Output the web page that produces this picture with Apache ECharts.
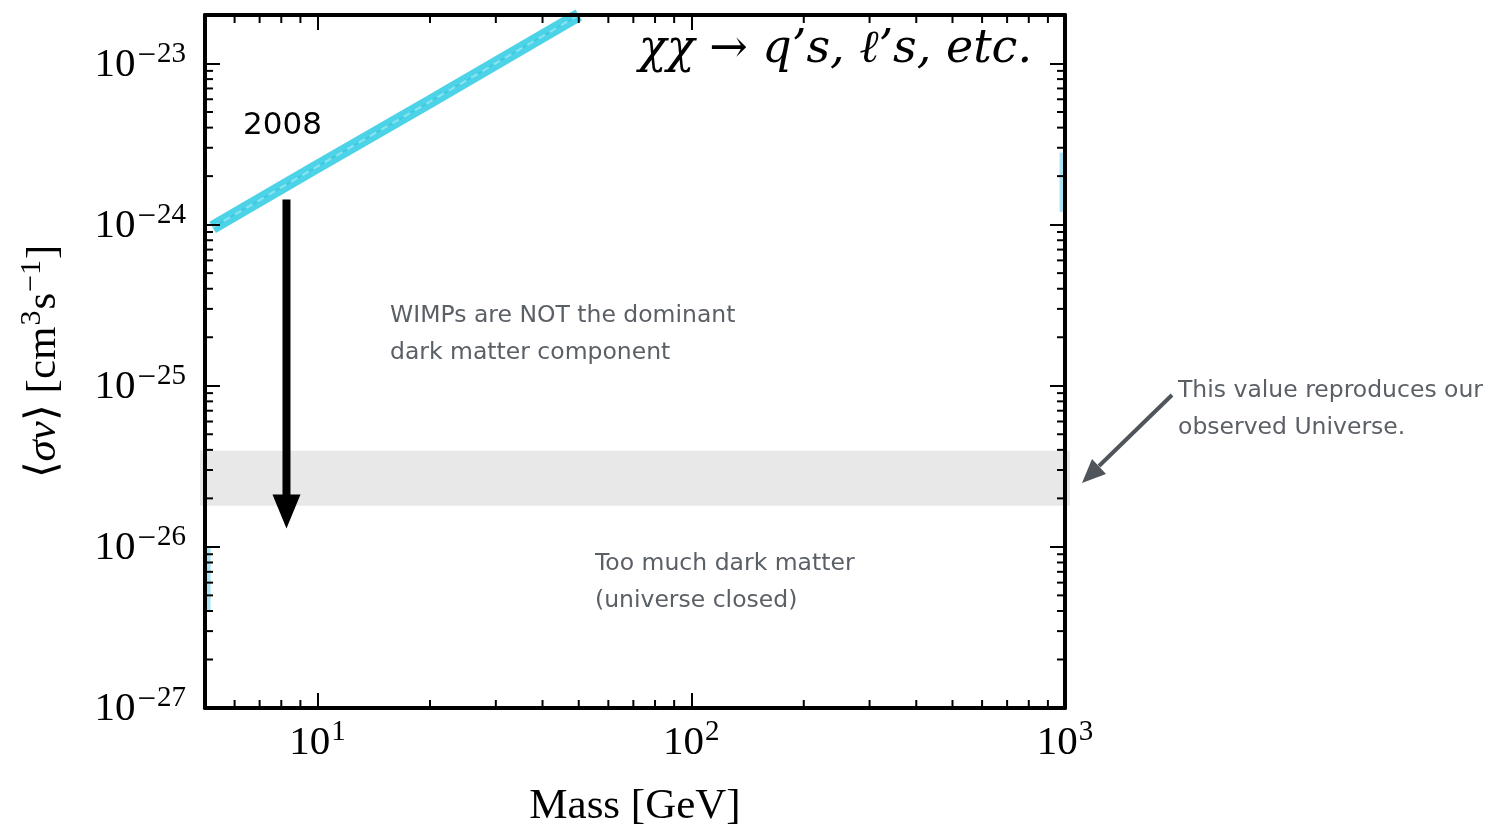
<!DOCTYPE html>
<html><head><meta charset="utf-8">
<script src="https://cdn.jsdelivr.net/npm/echarts@6.0.0/dist/echarts.min.js"></script>
<style>html,body{margin:0;padding:0;background:#fff}#c{width:1499px;height:836px}</style>
</head><body><div id="c"></div>
<script>
// ---- data ----
const xMin = 5, xMax = 1000;
const yMin = 1e-27, yMax = 2e-23;
const xMajorTicks = [10, 100, 1000];
const xTickExponents = ['1', '2', '3'];
const yMajorTicks = [1e-27, 1e-26, 1e-25, 1e-24, 1e-23];
const yTickExponents = ['27', '26', '25', '24', '23'];
const xMinorTicks = [6, 7, 8, 9, 20, 30, 40, 50, 60, 70, 80, 90, 200, 300, 400, 500, 600, 700, 800, 900];
const yMinorTicks = [
  2e-27, 3e-27, 4e-27, 5e-27, 6e-27, 7e-27, 8e-27, 9e-27,
  2e-26, 3e-26, 4e-26, 5e-26, 6e-26, 7e-26, 8e-26, 9e-26,
  2e-25, 3e-25, 4e-25, 5e-25, 6e-25, 7e-25, 8e-25, 9e-25,
  2e-24, 3e-24, 4e-24, 5e-24, 6e-24, 7e-24, 8e-24, 9e-24
];
const limit2008Mass = [5.24, 10, 20, 50];
const limit2008SigmaV = [9.6e-25, 2.3e-24, 5.8e-24, 2.0e-23];
const leftFragMass = [5.08, 5.08];
const leftFragSigmaV = [4.0e-27, 1.0e-26];
const rightFragMass = [985, 985];
const rightFragSigmaV = [1.2e-24, 2.8e-24];
const thermalBand = [1.8e-26, 3.95e-26];
const arrowMass = 8.26;
const arrowSigmaV = [1.43e-24, 1.3e-26];

const chart = echarts.init(document.getElementById('c'));
const serif = 'Liberation Serif';

function expIndex(arr, v) {
  for (let i = 0; i < arr.length; i++) {
    if (Math.abs(Math.log10(arr[i]) - Math.log10(v)) < 1e-6) return i;
  }
  return -1;
}
const labelRich = {
  b: { fontFamily: serif, fontSize: 41, color: '#000', lineHeight: 46, verticalAlign: 'bottom' },
  s: { fontFamily: serif, fontSize: 29, color: '#000', lineHeight: 40, verticalAlign: 'top', padding: [0, 0, 0, 1] }
};
// zrender-style rich (used inside custom series)
const zrLabelRich = {
  b: { fontFamily: serif, fontSize: 41, fill: '#000', lineHeight: 46, verticalAlign: 'bottom' },
  m: { fontFamily: serif, fontSize: 33, fill: '#000', lineHeight: 43, verticalAlign: 'top', padding: [0, 1, 0, 2] },
  s: { fontFamily: serif, fontSize: 29, fill: '#000', lineHeight: 40, verticalAlign: 'top' }
};

const axisCommon = {
  type: 'log', logBase: 10,
  axisLine: { show: true, onZero: false, lineStyle: { color: '#000', width: 4 } },
  axisTick: { show: true, inside: true, length: 15, lineStyle: { color: '#000', width: 2 } },
  splitLine: { show: false },
  z: 10
};

function toPairs(xs, ys) { return xs.map((x, i) => [x, ys[i]]); }

chart.setOption({
  animation: false,
  backgroundColor: '#fff',
  grid: { left: 205, right: 434, top: 15, bottom: 128, containLabel: false, outerBoundsMode: 'none' },
  xAxis: [
    Object.assign({}, axisCommon, {
      min: xMin, max: xMax, position: 'bottom',
      name: 'Mass [GeV]', nameLocation: 'middle', nameGap: 77, nameMoveOverlap: false,
      nameTextStyle: { fontFamily: serif, fontSize: 43, color: '#000' },
      axisLabel: {
        margin: 10, showMinLabel: false, hideOverlap: false,
        formatter: v => { const i = expIndex(xMajorTicks, v); return i < 0 ? '' : '{b|10}{s|' + xTickExponents[i] + '}'; },
        rich: labelRich
      }
    }),
    Object.assign({}, axisCommon, { min: xMin, max: xMax, position: 'top', axisLabel: { show: false } })
  ],
  yAxis: [
    Object.assign({}, axisCommon, {
      min: yMin, max: yMax, position: 'left',
      name: '{n|\u27E8}{i|\u03C3v}{n|\u27E9 [cm}{s|3}{n|s}{s|\u22121}{n|]}',
      nameLocation: 'middle', nameGap: 140, nameRotate: 90, nameMoveOverlap: false,
      nameTextStyle: {
        fontFamily: serif, fontSize: 43, color: '#000',
        rich: {
          n: { fontFamily: serif, fontSize: 43, color: '#000', lineHeight: 48, verticalAlign: 'bottom' },
          i: { fontFamily: serif, fontStyle: 'italic', fontSize: 43, color: '#000', lineHeight: 48, verticalAlign: 'bottom' },
          s: { fontFamily: serif, fontSize: 30, color: '#000', lineHeight: 40, verticalAlign: 'top', padding: [0, 1, 0, 1] }
        }
      },
      axisLabel: { show: false }
    }),
    Object.assign({}, axisCommon, { min: yMin, max: yMax, position: 'right', axisLabel: { show: false } })
  ],
  series: [
    {
      type: 'custom', name: 'band', z: 1, clip: false, silent: true,
      data: [[xMin, thermalBand[0], thermalBand[1]]],
      renderItem: (params, api) => {
        const cs = params.coordSys;
        const pHi = api.coord([xMin, api.value(2)]);
        const pLo = api.coord([xMin, api.value(1)]);
        return { type: 'rect', shape: { x: cs.x - 5, y: pHi[1], width: cs.width + 10, height: pLo[1] - pHi[1] },
          style: { fill: '#e8e8e8' } };
      }
    },
    {
      type: 'line', name: '2008', z: 3, showSymbol: false, symbol: 'none',
      data: toPairs(limit2008Mass, limit2008SigmaV),
      lineStyle: { color: '#4dd3e7', width: 13, cap: 'butt' }
    },
    {
      type: 'line', name: '2008texA', z: 3, showSymbol: false, symbol: 'none',
      data: toPairs(limit2008Mass, limit2008SigmaV),
      lineStyle: { color: '#8ae3f0', width: 2, type: [7, 6], dashOffset: 0 }
    },
    {
      type: 'line', name: '2008texB', z: 3, showSymbol: false, symbol: 'none',
      data: toPairs(limit2008Mass, limit2008SigmaV),
      lineStyle: { color: '#3fc9df', width: 2, type: [4, 9], dashOffset: 5 }
    },
    {
      type: 'line', name: 'fragL', z: 2, showSymbol: false, symbol: 'none',
      data: toPairs(leftFragMass, leftFragSigmaV),
      lineStyle: { color: '#a9e4f4', width: 6 }
    },
    {
      type: 'line', name: 'fragR', z: 2, showSymbol: false, symbol: 'none',
      data: toPairs(rightFragMass, rightFragSigmaV),
      lineStyle: { color: '#a9e4f4', width: 6 }
    },
    {
      type: 'custom', name: 'arrow', z: 4, silent: true,
      data: [[arrowMass, arrowSigmaV[0], arrowSigmaV[1]]],
      renderItem: (params, api) => {
        const a = api.coord([api.value(0), api.value(1)]);
        const b = api.coord([api.value(0), api.value(2)]);
        const head = 34, hw = 14;
        return { type: 'group', children: [
          { type: 'line', shape: { x1: a[0], y1: a[1], x2: b[0], y2: b[1] - head + 2 }, style: { stroke: '#000', lineWidth: 8 } },
          { type: 'polygon', shape: { points: [[b[0] - hw, b[1] - head], [b[0] + hw, b[1] - head], [b[0], b[1]]] }, style: { fill: '#000' } }
        ] };
      }
    },
    {
      type: 'custom', name: 'xminor', z: 11, clip: false, silent: true,
      data: xMinorTicks.map(v => [v, yMin]),
      renderItem: (params, api) => {
        const cs = params.coordSys;
        const x = api.coord([api.value(0), yMin])[0];
        const yb = cs.y + cs.height, yt = cs.y;
        return { type: 'group', children: [
          { type: 'line', shape: { x1: x, y1: yb, x2: x, y2: yb - 8 }, style: { stroke: '#000', lineWidth: 2 } },
          { type: 'line', shape: { x1: x, y1: yt, x2: x, y2: yt + 8 }, style: { stroke: '#000', lineWidth: 2 } }
        ] };
      }
    },
    {
      type: 'custom', name: 'yminor', z: 11, clip: false, silent: true,
      data: yMinorTicks.map(v => [xMin, v]),
      renderItem: (params, api) => {
        const cs = params.coordSys;
        const y = api.coord([xMin, api.value(1)])[1];
        const xl = cs.x, xr = cs.x + cs.width;
        return { type: 'group', children: [
          { type: 'line', shape: { x1: xl, y1: y, x2: xl + 8, y2: y }, style: { stroke: '#000', lineWidth: 2 } },
          { type: 'line', shape: { x1: xr, y1: y, x2: xr - 8, y2: y }, style: { stroke: '#000', lineWidth: 2 } }
        ] };
      }
    },
    {
      type: 'custom', name: 'ylabels', z: 12, clip: false, silent: true,
      data: yMajorTicks.map((v, i) => [xMin, v, i]),
      renderItem: (params, api) => {
        const p = api.coord([xMin, api.value(1)]);
        const idx = api.value(2);
        return { type: 'text', x: p[0] - 19, y: p[1] - 1,
          style: { text: '{b|10}{m|\u2212}{s|' + yTickExponents[idx] + '}', rich: zrLabelRich,
            align: 'right', verticalAlign: 'middle', fill: '#000' } };
      }
    }
  ],
  graphic: [
    { type: 'text', z: 20, style: { text: '\u03C7\u03C7 \u2192 q\u2019s, \u2113\u2019s, etc.', x: 1032, y: 50, align: 'right', verticalAlign: 'middle',
        font: 'italic 46px "DejaVu Serif"', fill: '#000' } },
    { type: 'text', z: 20, style: { text: '2008', x: 243, y: 126, verticalAlign: 'middle', font: '31px "DejaVu Sans"', fill: '#000' } },
    { type: 'text', z: 20, style: { text: 'WIMPs are NOT the dominant', x: 390, y: 316, verticalAlign: 'middle', font: '23.5px "DejaVu Sans"', fill: '#5b6067' } },
    { type: 'text', z: 20, style: { text: 'dark matter component', x: 390, y: 353, verticalAlign: 'middle', font: '23.5px "DejaVu Sans"', fill: '#5b6067' } },
    { type: 'text', z: 20, style: { text: 'Too much dark matter', x: 595, y: 564, verticalAlign: 'middle', font: '23.5px "DejaVu Sans"', fill: '#5b6067' } },
    { type: 'text', z: 20, style: { text: '(universe closed)', x: 595, y: 601, verticalAlign: 'middle', font: '23.5px "DejaVu Sans"', fill: '#5b6067' } },
    { type: 'text', z: 20, style: { text: 'This value reproduces our', x: 1178, y: 391, verticalAlign: 'middle', font: '23.5px "DejaVu Sans"', fill: '#5b6067' } },
    { type: 'text', z: 20, style: { text: 'observed Universe.', x: 1178, y: 428, verticalAlign: 'middle', font: '23.5px "DejaVu Sans"', fill: '#5b6067' } },
    { type: 'line', z: 20, shape: { x1: 1172, y1: 395, x2: 1099, y2: 466 }, style: { stroke: '#50555c', lineWidth: 4 } },
    { type: 'polygon', z: 20, shape: { points: [[1082, 483], [1106, 474], [1092, 459]] }, style: { fill: '#50555c' } }
  ]
});
</script></body></html>
